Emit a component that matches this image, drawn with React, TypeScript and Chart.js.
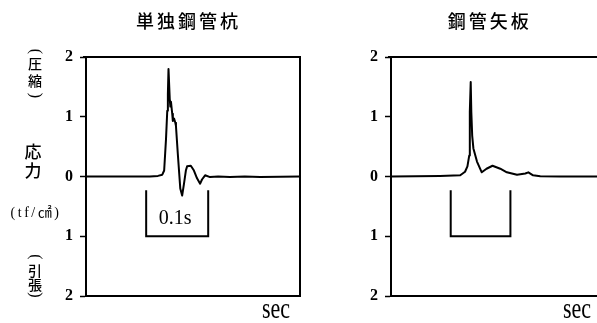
import { useEffect, useRef } from 'react';
import { Chart, registerables } from 'chart.js';

Chart.register(...registerables);

// Panel headings
const panelTitles = ['単独鋼管杭', '鋼管矢板'];

// Stress axis: positive = compression, negative = tension (labels show magnitude)
const stressTicks = [-2, -1, 0, 1, 2];
const timeAxisLabel = 'sec';
const scaleBarLabel = '0.1s';
const scaleBarLength = 0.1; // s
const timeSpan = 0.345; // s shown in each panel

// Single steel pipe pile: time (s) and stress (tf/cm²)
const pileTime = [
  0, 0.103, 0.116, 0.123, 0.126, 0.129, 0.131, 0.132, 0.133, 0.135, 0.136, 0.137,
  0.139, 0.14, 0.142, 0.144, 0.145, 0.148, 0.152, 0.155, 0.158, 0.161, 0.163,
  0.169, 0.174, 0.179, 0.184, 0.187, 0.192, 0.2, 0.213, 0.232, 0.256, 0.281, 0.345,
];
const pileStress = [
  0, 0, 0.01, 0.03, 0.1, 0.63, 1.1, 1.38, 1.8, 1.3, 1.17, 1.25,
  1.05, 0.93, 0.97, 0.9, 0.85, 0.38, -0.2, -0.32, -0.12, 0.1, 0.17,
  0.18, 0.1, -0.03, -0.12, -0.05, 0.02, -0.01, 0, -0.01, 0, -0.01, 0,
];

// Steel pipe sheet pile: time (s) and stress (tf/cm²)
const sheetTime = [
  0, 0.082, 0.116, 0.124, 0.128, 0.131, 0.132, 0.1335, 0.1345, 0.136, 0.138,
  0.144, 0.152, 0.16, 0.17, 0.183, 0.194, 0.211, 0.225, 0.23, 0.238, 0.25, 0.283, 0.345,
];
const sheetStress = [
  0, 0.01, 0.02, 0.08, 0.17, 0.35, 1.08, 1.58, 1.08, 0.68, 0.47,
  0.25, 0.07, 0.13, 0.18, 0.13, 0.07, 0.03, 0.05, 0.07, 0.02, 0.005, 0, 0,
];

const pileScaleBarStart = 0.097;
const sheetScaleBarStart = 0.1;

const SERIF = "'Liberation Serif', 'DejaVu Serif', serif";
const CJK = "'Noto Sans CJK JP', 'Noto Sans CJK SC', sans-serif";

type PanelProps = {
  left: number;
  width: number;
  padLeft: number;
  padRight: number;
  title: string;
  time: number[];
  stress: number[];
  barStart: number;
  showBarLabel: boolean;
  closedFrame: boolean;
  axisCaption: boolean;
  secOffset: number;
};

function drawRotatedParen(ctx: CanvasRenderingContext2D, ch: string, x: number, y: number) {
  ctx.save();
  ctx.translate(x, y);
  ctx.rotate(Math.PI / 2);
  ctx.font = `16px ${SERIF}`;
  ctx.textAlign = 'center';
  ctx.textBaseline = 'middle';
  ctx.fillText(ch, 0, 0);
  ctx.restore();
}

function makeDecor(p: PanelProps) {
  return {
    id: 'panelDecor',
    afterDraw(chart: Chart) {
      const { ctx, chartArea: a } = chart;
      const x = chart.scales.x;
      const y = chart.scales.y;
      ctx.save();
      ctx.strokeStyle = '#000';
      ctx.fillStyle = '#000';
      ctx.lineWidth = 2;

      // frame: top edge (and right edge for the closed panel)
      ctx.beginPath();
      ctx.moveTo(a.left - 3, a.top);
      ctx.lineTo(a.right, a.top);
      if (p.closedFrame) ctx.lineTo(a.right, a.bottom);
      ctx.stroke();

      // 0.1 s scale bracket
      const bx0 = x.getPixelForValue(p.barStart);
      const bx1 = x.getPixelForValue(p.barStart + scaleBarLength);
      const byTop = y.getPixelForValue(-0.23);
      const byBot = y.getPixelForValue(-1);
      ctx.beginPath();
      ctx.moveTo(bx0, byTop);
      ctx.lineTo(bx0, byBot);
      ctx.lineTo(bx1, byBot);
      ctx.lineTo(bx1, byTop);
      ctx.stroke();
      if (p.showBarLabel) {
        ctx.font = `20px ${SERIF}`;
        ctx.textAlign = 'center';
        ctx.textBaseline = 'middle';
        ctx.fillText(scaleBarLabel, (bx0 + bx1) / 2 - 2, y.getPixelForValue(-0.7));
      }

      // panel title
      ctx.font = `500 18px ${CJK}`;
      (ctx as any).letterSpacing = '3px';
      ctx.textAlign = 'center';
      ctx.textBaseline = 'middle';
      ctx.fillText(p.title, x.getPixelForValue(0.163) + 1.5, 21);
      (ctx as any).letterSpacing = '0px';

      // time axis label
      ctx.save();
      ctx.translate(a.right + p.secOffset, 318);
      ctx.scale(1, 1.35);
      ctx.font = `22px ${SERIF}`;
      ctx.textAlign = 'center';
      ctx.textBaseline = 'alphabetic';
      ctx.fillText(timeAxisLabel, 0, 0);
      ctx.restore();

      // stress axis caption
      if (p.axisCaption) {
        const cx = a.left - 51;
        drawRotatedParen(ctx, '(', cx, 51.5);
        ctx.font = `500 14px ${CJK}`;
        ctx.textAlign = 'center';
        ctx.textBaseline = 'middle';
        ctx.fillText('圧', cx, 64);
        ctx.fillText('縮', cx, 81);
        drawRotatedParen(ctx, ')', cx, 95.5);

        ctx.font = `500 17px ${CJK}`;
        ctx.fillText('応', cx - 2, 152);
        ctx.fillText('力', cx - 2, 171);

        ctx.font = `14px ${SERIF}, ${CJK}`;
        (ctx as any).letterSpacing = '2.5px';
        ctx.fillText('(tf/㎠)', cx + 1, 213);
        (ctx as any).letterSpacing = '0px';

        drawRotatedParen(ctx, '(', cx, 257);
        ctx.font = `500 14px ${CJK}`;
        ctx.fillText('引', cx, 270.5);
        ctx.fillText('張', cx, 285);
        drawRotatedParen(ctx, ')', cx, 295);
      }
      ctx.restore();
    },
  };
}

function Panel(p: PanelProps) {
  const ref = useRef<HTMLCanvasElement>(null);
  useEffect(() => {
    const canvas = ref.current;
    if (!canvas) return;
    const chart = new Chart(canvas, {
      type: 'line',
      data: {
        datasets: [
          {
            data: p.time.map((t, i) => ({ x: t, y: p.stress[i] })),
            borderColor: '#000',
            borderWidth: 2,
            pointRadius: 0,
            tension: 0,
            fill: false,
            borderJoinStyle: 'round',
          },
        ],
      },
      options: {
        responsive: false,
        animation: false,
        devicePixelRatio: 1,
        events: [],
        layout: { padding: { left: p.padLeft, right: p.padRight, top: 57, bottom: 27 } },
        plugins: {
          legend: { display: false },
          tooltip: { enabled: false },
          title: { display: false },
        },
        scales: {
          x: {
            type: 'linear',
            min: 0,
            max: timeSpan,
            afterFit: (s: any) => {
              s.height = 0;
            },
            ticks: { display: false },
            grid: { display: false, drawTicks: false },
            border: { display: true, color: '#000', width: 2 },
          },
          y: {
            type: 'linear',
            min: -2,
            max: 2,
            afterFit: (s: any) => {
              s.width = 40;
            },
            afterBuildTicks: (s: any) => {
              s.ticks = stressTicks.map((v) => ({ value: v }));
            },
            ticks: {
              color: '#000',
              padding: 7,
              font: { family: SERIF, size: 16, weight: 'bold' },
              callback: (v: any) => String(Math.abs(Number(v))),
            },
            grid: {
              drawOnChartArea: false,
              drawTicks: true,
              tickLength: 6,
              tickColor: '#000',
              tickWidth: 1.5,
            },
            border: { display: true, color: '#000', width: 2 },
          },
        },
      } as any,
      plugins: [makeDecor(p) as any],
    });
    return () => chart.destroy();
  }, []);
  return (
    <canvas
      ref={ref}
      width={p.width}
      height={323}
      style={{ position: 'absolute', left: p.left, top: 0, width: p.width, height: 323 }}
    />
  );
}

export default function App() {
  return (
    <div
      style={{
        position: 'fixed',
        left: 0,
        top: 0,
        width: 597,
        height: 323,
        background: '#fff',
        overflow: 'hidden',
      }}
    >
      <Panel
        left={0}
        width={310}
        padLeft={46}
        padRight={10}
        title={panelTitles[0]}
        time={pileTime}
        stress={pileStress}
        barStart={pileScaleBarStart}
        showBarLabel={true}
        closedFrame={true}
        axisCaption={true}
        secOffset={-24}
      />
      <Panel
        left={300}
        width={297}
        padLeft={51}
        padRight={0}
        title={panelTitles[1]}
        time={sheetTime}
        stress={sheetStress}
        barStart={sheetScaleBarStart}
        showBarLabel={false}
        closedFrame={false}
        axisCaption={false}
        secOffset={-20}
      />
    </div>
  );
}
